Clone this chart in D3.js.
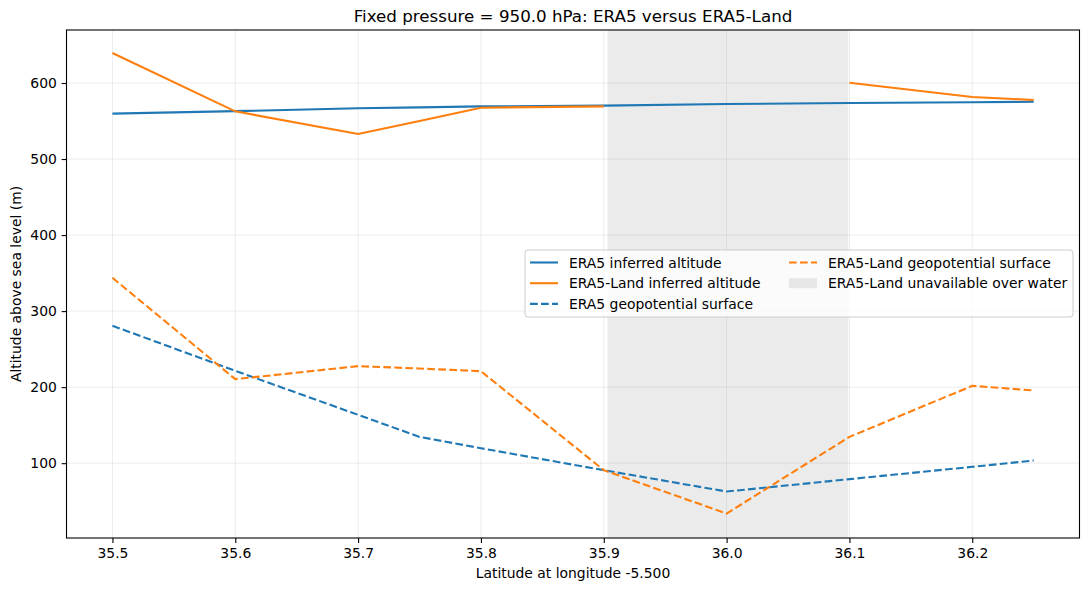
<!DOCTYPE html>
<html>
<head>
<meta charset="utf-8">
<script src="https://cdn.jsdelivr.net/npm/d3@7"></script>
<style>
  body { margin: 0; background: #fff; }
  text { font-family: "DejaVu Sans", sans-serif; fill: #000; }
</style>
</head>
<body>
<script>
// latitudes of the sampled points
var lat = [35.5, 35.6, 35.7, 35.75, 35.8, 35.9, 36.0, 36.1, 36.2, 36.25];

// ERA5 inferred altitude (m)
var era5Alt = [559.7, 563, 566.7, 568, 569.3, 570.2, 572.3, 573.7, 574.6, 575.3];
// ERA5-Land inferred altitude (null = no data over water)
var landAlt = [639.5, 562.7, 532.9, 550, 567.5, 569.3, null, 600.4, 581.6, 577.6];
// ERA5 geopotential surface (m)
var era5Geo = [280.7, 221.5, 163.6, 134.6, 119.7, 90.8, 62.7, 79, 95.2, 103.5];
// ERA5-Land geopotential surface (m)
var landGeo = [343.8, 210.5, 227.6, 224.5, 221, 90.8, 33.8, 134.6, 201.7, 195.6];

var waterSpan = [35.903, 36.099];

var xTicks = [35.5, 35.6, 35.7, 35.8, 35.9, 36.0, 36.1, 36.2];
var yTicks = [100, 200, 300, 400, 500, 600];

var W = 1089, H = 590;
var m = { left: 66.5, right: 9.5, top: 30, bottom: 52 };

var blue = "#1f77b4", orange = "#ff7f0e";

var svg = d3.select("body").append("svg")
    .attr("width", W)
    .attr("height", H);

var x = d3.scaleLinear().domain([35.4626, 36.2873]).range([m.left, W - m.right]);
var y = d3.scaleLinear().domain([1.6, 669.7]).range([H - m.bottom, m.top]);

// water span
svg.append("rect")
    .attr("x", x(waterSpan[0]))
    .attr("y", m.top)
    .attr("width", x(waterSpan[1]) - x(waterSpan[0]))
    .attr("height", y(1.6) - y(669.7))
    .attr("fill", "#808080")
    .attr("fill-opacity", 0.16);

// grid
var grid = svg.append("g").attr("stroke", "#b0b0b0").attr("stroke-opacity", 0.3).attr("stroke-width", 0.8);
grid.selectAll(".gx").data(xTicks).enter().append("line")
    .attr("x1", d => x(d)).attr("x2", d => x(d))
    .attr("y1", m.top).attr("y2", H - m.bottom);
grid.selectAll(".gy").data(yTicks).enter().append("line")
    .attr("y1", d => y(d)).attr("y2", d => y(d))
    .attr("x1", m.left).attr("x2", W - m.right);

var series = [
  { vals: era5Alt, color: blue, dash: null },
  { vals: landAlt, color: orange, dash: null },
  { vals: era5Geo, color: blue, dash: "7.7,3.3" },
  { vals: landGeo, color: orange, dash: "7.7,3.3" }
];

var line = d3.line()
    .defined(d => d[1] != null)
    .x(d => x(d[0]))
    .y(d => y(d[1]));

series.forEach(function(s) {
  svg.append("path")
      .datum(lat.map((l, i) => [l, s.vals[i]]))
      .attr("d", line)
      .attr("fill", "none")
      .attr("stroke", s.color)
      .attr("stroke-width", 2.1)
      .attr("stroke-dasharray", s.dash);
});

// axes
var xAxis = svg.append("g")
    .attr("transform", "translate(0," + (H - m.bottom) + ")")
    .call(d3.axisBottom(x).tickValues(xTicks).tickFormat(d3.format(".1f")).tickSizeOuter(0).tickSize(4.9).tickPadding(4.8));
var yAxis = svg.append("g")
    .attr("transform", "translate(" + m.left + ",0)")
    .call(d3.axisLeft(y).tickValues(yTicks).tickSizeOuter(0).tickSize(4.9).tickPadding(4.8));
[xAxis, yAxis].forEach(function(a) {
  a.select(".domain").remove();
  a.selectAll("line").attr("stroke", "#000").attr("stroke-width", 1.1);
  a.selectAll("text").style("font-family", "DejaVu Sans").style("font-size", "13.9px").attr("fill", "#000");
});

// frame
svg.append("rect")
    .attr("x", m.left).attr("y", m.top)
    .attr("width", W - m.right - m.left).attr("height", H - m.bottom - m.top)
    .attr("fill", "none").attr("stroke", "#000").attr("stroke-width", 1.1);

// labels
svg.append("text")
    .attr("x", (m.left + W - m.right) / 2).attr("y", 22)
    .attr("text-anchor", "middle").style("font-size", "16.7px")
    .text("Fixed pressure = 950.0 hPa: ERA5 versus ERA5-Land");
svg.append("text")
    .attr("x", (m.left + W - m.right) / 2).attr("y", 578)
    .attr("text-anchor", "middle").style("font-size", "13.9px")
    .text("Latitude at longitude -5.500");
svg.append("text")
    .attr("transform", "translate(21," + ((m.top + H - m.bottom) / 2) + ") rotate(-90)")
    .attr("text-anchor", "middle").style("font-size", "13.9px")
    .text("Altitude above sea level (m)");

// legend
var legend = svg.append("g").attr("transform", "translate(525,250)");
legend.append("rect")
    .attr("width", 548).attr("height", 67).attr("rx", 3)
    .attr("fill", "#fff").attr("fill-opacity", 0.8)
    .attr("stroke", "#cccccc").attr("stroke-width", 1);

var legendItems = [
  { label: "ERA5 inferred altitude", color: blue, dash: null, col: 0, row: 0 },
  { label: "ERA5-Land inferred altitude", color: orange, dash: null, col: 0, row: 1 },
  { label: "ERA5 geopotential surface", color: blue, dash: "7.7,3.3", col: 0, row: 2 },
  { label: "ERA5-Land geopotential surface", color: orange, dash: "7.7,3.3", col: 1, row: 0 },
  { label: "ERA5-Land unavailable over water", patch: true, col: 1, row: 1 }
];
var colX = [5, 264];
legendItems.forEach(function(it) {
  var gx = colX[it.col], gy = 12.5 + it.row * 20.7;
  if (it.patch) {
    legend.append("rect")
        .attr("x", gx).attr("y", gy - 5).attr("width", 28).attr("height", 10)
        .attr("fill", "#808080").attr("fill-opacity", 0.16);
  } else {
    legend.append("line")
        .attr("x1", gx).attr("x2", gx + 28).attr("y1", gy).attr("y2", gy)
        .attr("stroke", it.color).attr("stroke-width", 2.1)
        .attr("stroke-dasharray", it.dash);
  }
  legend.append("text")
      .attr("x", gx + 39).attr("y", gy + 5)
      .style("font-size", "13.9px")
      .text(it.label);
});
</script>
</body>
</html>
